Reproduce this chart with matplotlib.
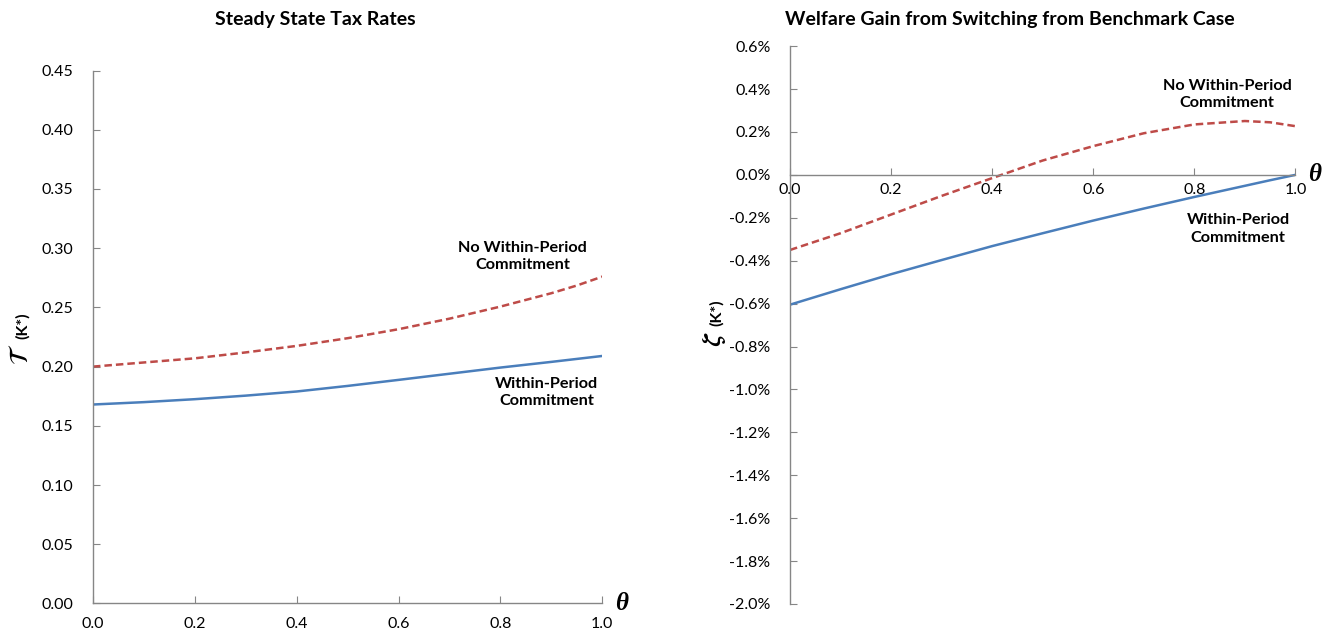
import numpy as np
import matplotlib.pyplot as plt
from matplotlib.ticker import FuncFormatter, MultipleLocator

# Datos
theta = [0.0, 0.1, 0.2, 0.3, 0.4, 0.5, 0.6, 0.7, 0.8, 0.9, 0.95, 1.0]

# Tasas de impuesto en estado estacionario
tasa_con_compromiso = [0.168, 0.170, 0.1725, 0.1755, 0.179, 0.1837, 0.1888,
                       0.194, 0.1992, 0.204, 0.2065, 0.209]
tasa_sin_compromiso = [0.200, 0.2035, 0.207, 0.212, 0.2175, 0.224, 0.2316,
                       0.2405, 0.2507, 0.262, 0.2685, 0.276]

# Ganancia de bienestar (en %)
bien_con_compromiso = [-0.605, -0.533, -0.463, -0.397, -0.332, -0.272, -0.213,
                       -0.157, -0.103, -0.051, -0.025, 0.0]
bien_sin_compromiso = [-0.350, -0.272, -0.185, -0.098, -0.015, 0.067, 0.134,
                       0.194, 0.235, 0.251, 0.245, 0.227]

azul = '#4A7EBB'
rojo = '#BE4B48'
gris = '#868686'

plt.rcParams['font.family'] = ['Lato', 'DejaVu Sans']
plt.rcParams['mathtext.fontset'] = 'stix'

fig = plt.figure(figsize=(13.3, 6.39), dpi=100)
ax1 = fig.add_axes([0.0699, 0.0556, 0.383, 0.834])
ax2 = fig.add_axes([0.594, 0.0548, 0.380, 0.873])


def estilo(ax):
    for s in ['top', 'right']:
        ax.spines[s].set_visible(False)
    for s in ['left', 'bottom']:
        ax.spines[s].set_color(gris)
        ax.spines[s].set_linewidth(1.0)
    ax.tick_params(direction='in', length=5, color=gris, labelsize=11.5,
                   labelcolor='black')
    ax.set_xlim(0, 1)
    ax.xaxis.set_major_locator(MultipleLocator(0.2))
    ax.xaxis.set_major_formatter(FuncFormatter(lambda v, p: f'{v:.1f}'))


def etiqueta_theta(ax, y):
    ax.text(1.025, y, 'θ', ha='left', va='center', fontsize=18,
            family=['Liberation Serif', 'DejaVu Serif'], fontweight='bold',
            fontstyle='italic', clip_on=False)


def etiqueta_y(ax, simbolo, x, y1, y2):
    ax.text(x, y1, simbolo, rotation=90, ha='center', va='center',
            fontsize=19, transform=ax.transAxes)
    ax.text(x + 0.004, y2, '(K*)', rotation=90, ha='center', va='center',
            fontsize=11.5, fontweight='bold', transform=ax.transAxes)


# Grafico izquierdo
estilo(ax1)
ax1.plot(theta, tasa_con_compromiso, color=azul, lw=1.8)
ax1.plot(theta, tasa_sin_compromiso, color=rojo, lw=1.8, ls=(0, (3, 1.6)))
ax1.set_ylim(0, 0.45)
ax1.yaxis.set_major_locator(MultipleLocator(0.05))
ax1.yaxis.set_major_formatter(FuncFormatter(lambda v, p: f'{v:.2f}'))
ax1.tick_params(axis='x', pad=10)
ax1.tick_params(axis='y', pad=14)
ax1.text(0.843, 0.293, 'No Within-Period\nCommitment', ha='center', va='center',
         fontsize=11.7, fontweight='bold', linespacing=1.3)
ax1.text(0.89, 0.178, 'Within-Period\nCommitment', ha='center', va='center',
         fontsize=11.7, fontweight='bold', linespacing=1.3)
etiqueta_theta(ax1, 0.0)
etiqueta_y(ax1, r'$\mathcal{T}$', -0.142, 0.468, 0.522)

# Grafico derecho
estilo(ax2)
ax2.plot(theta, bien_con_compromiso, color=azul, lw=1.8)
ax2.plot(theta, bien_sin_compromiso, color=rojo, lw=1.8, ls=(0, (3, 1.6)))
ax2.set_ylim(-2.0, 0.6)
ax2.spines['bottom'].set_position(('data', 0))
ax2.yaxis.set_major_locator(MultipleLocator(0.2))
ax2.yaxis.set_major_formatter(FuncFormatter(lambda v, p: f'{v:.1f}%'))
ax2.tick_params(axis='x', pad=6)
ax2.tick_params(axis='y', pad=14)
ax2.text(0.865, 0.373, 'No Within-Period\nCommitment', ha='center', va='center',
         fontsize=11.7, fontweight='bold', linespacing=1.3)
ax2.text(0.887, -0.252, 'Within-Period\nCommitment', ha='center', va='center',
         fontsize=11.7, fontweight='bold', linespacing=1.3)
etiqueta_theta(ax2, 0.0)
etiqueta_y(ax2, r'$\boldsymbol{\zeta}$', -0.150, 0.475, 0.522)

fig.text(0.237, 0.969, 'Steady State Tax Rates', ha='center', va='center',
         fontsize=14, fontweight='bold')
fig.text(0.759, 0.969, 'Welfare Gain from Switching from Benchmark Case',
         ha='center', va='center', fontsize=14, fontweight='bold')

fig.savefig('out.png', dpi=100)
